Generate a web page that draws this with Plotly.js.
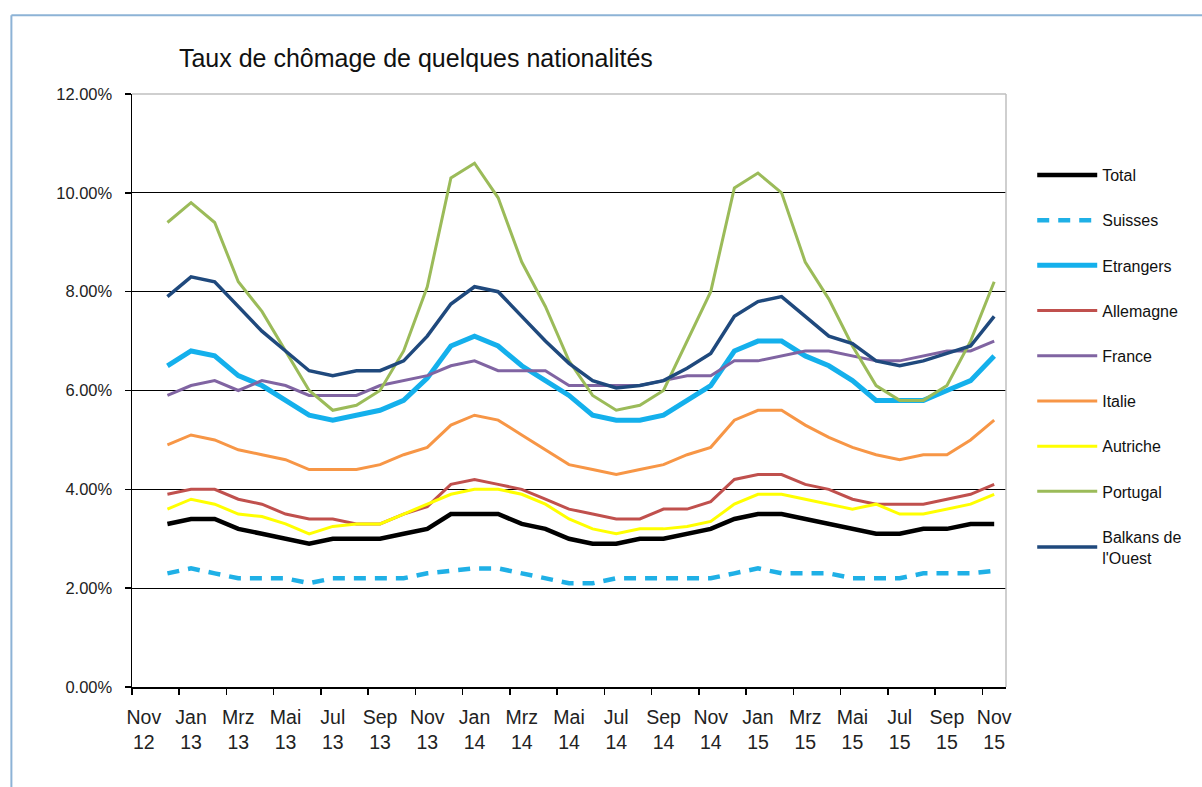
<!DOCTYPE html>
<html>
<head>
<meta charset="utf-8">
<script src="https://cdn.plot.ly/plotly-3.0.1.min.js"></script>
<style>
  html, body { margin: 0; padding: 0; background: #ffffff; }
  #chart { width: 1202px; height: 787px; }
</style>
</head>
<body>
<div id="chart"></div>
<script>
// Months Dec 2012 .. Nov 2015 (data points)
const months = ["Dez 12","Jan 13","Feb 13","Mrz 13","Apr 13","Mai 13","Jun 13","Jul 13","Aug 13","Sep 13","Okt 13","Nov 13",
                "Dez 13","Jan 14","Feb 14","Mrz 14","Apr 14","Mai 14","Jun 14","Jul 14","Aug 14","Sep 14","Okt 14","Nov 14",
                "Dez 14","Jan 15","Feb 15","Mrz 15","Apr 15","Mai 15","Jun 15","Jul 15","Aug 15","Sep 15","Okt 15","Nov 15"];
// Axis tick labels (every second month, starting Nov 12)
const tickLabels = ["Nov<br>12","Jan<br>13","Mrz<br>13","Mai<br>13","Jul<br>13","Sep<br>13","Nov<br>13",
                    "Jan<br>14","Mrz<br>14","Mai<br>14","Jul<br>14","Sep<br>14","Nov<br>14",
                    "Jan<br>15","Mrz<br>15","Mai<br>15","Jul<br>15","Sep<br>15","Nov<br>15"];

const total     = [3.3,3.4,3.4,3.2,3.1,3.0,2.9,3.0,3.0,3.0,3.1,3.2, 3.5,3.5,3.5,3.3,3.2,3.0,2.9,2.9,3.0,3.0,3.1,3.2, 3.4,3.5,3.5,3.4,3.3,3.2,3.1,3.1,3.2,3.2,3.3,3.3];
const suisses   = [2.3,2.4,2.3,2.2,2.2,2.2,2.1,2.2,2.2,2.2,2.2,2.3, 2.35,2.4,2.4,2.3,2.2,2.1,2.1,2.2,2.2,2.2,2.2,2.2, 2.3,2.4,2.3,2.3,2.3,2.2,2.2,2.2,2.3,2.3,2.3,2.35];
const etrangers = [6.5,6.8,6.7,6.3,6.1,5.8,5.5,5.4,5.5,5.6,5.8,6.25, 6.9,7.1,6.9,6.5,6.2,5.9,5.5,5.4,5.4,5.5,5.8,6.1, 6.8,7.0,7.0,6.7,6.5,6.2,5.8,5.8,5.8,6.0,6.2,6.7];
const allemagne = [3.9,4.0,4.0,3.8,3.7,3.5,3.4,3.4,3.3,3.3,3.5,3.65, 4.1,4.2,4.1,4.0,3.8,3.6,3.5,3.4,3.4,3.6,3.6,3.75, 4.2,4.3,4.3,4.1,4.0,3.8,3.7,3.7,3.7,3.8,3.9,4.1];
const france    = [5.9,6.1,6.2,6.0,6.2,6.1,5.9,5.9,5.9,6.1,6.2,6.3, 6.5,6.6,6.4,6.4,6.4,6.1,6.1,6.1,6.1,6.2,6.3,6.3, 6.6,6.6,6.7,6.8,6.8,6.7,6.6,6.6,6.7,6.8,6.8,7.0];
const italie    = [4.9,5.1,5.0,4.8,4.7,4.6,4.4,4.4,4.4,4.5,4.7,4.85, 5.3,5.5,5.4,5.1,4.8,4.5,4.4,4.3,4.4,4.5,4.7,4.85, 5.4,5.6,5.6,5.3,5.05,4.85,4.7,4.6,4.7,4.7,5.0,5.4];
const autriche  = [3.6,3.8,3.7,3.5,3.45,3.3,3.1,3.25,3.3,3.3,3.5,3.7, 3.9,4.0,4.0,3.9,3.7,3.4,3.2,3.1,3.2,3.2,3.25,3.35, 3.7,3.9,3.9,3.8,3.7,3.6,3.7,3.5,3.5,3.6,3.7,3.9];
const portugal  = [9.4,9.8,9.4,8.2,7.6,6.8,6.0,5.6,5.7,6.0,6.8,8.1, 10.3,10.6,9.9,8.6,7.7,6.6,5.9,5.6,5.7,6.0,7.0,8.0, 10.1,10.4,10.0,8.6,7.85,6.9,6.1,5.8,5.8,6.1,7.0,8.2];
const balkans   = [7.9,8.3,8.2,7.7,7.2,6.8,6.4,6.3,6.4,6.4,6.6,7.1, 7.75,8.1,8.0,7.5,7.0,6.55,6.2,6.05,6.1,6.2,6.45,6.75, 7.5,7.8,7.9,7.5,7.1,6.95,6.6,6.5,6.6,6.75,6.9,7.5];

// position index: Nov 12 = 0, Dec 12 = 1, ...
const xs = months.map((m, i) => i + 1);
const tickPos = tickLabels.map((t, i) => i * 2);
const boundaryPos = tickLabels.map((t, i) => i * 2 - 0.5);

const series = [
  {name: "Total",                y: total,     color: "#000000", width: 4.5},
  {name: "Suisses",              y: suisses,   color: "#1fb0e6", width: 4.5, dash: "12px,9px"},
  {name: "Etrangers",            y: etrangers, color: "#14b0ec", width: 5},
  {name: "Allemagne",            y: allemagne, color: "#c0504d", width: 3},
  {name: "France",               y: france,    color: "#8064a2", width: 3},
  {name: "Italie",               y: italie,    color: "#f79646", width: 3},
  {name: "Autriche",             y: autriche,  color: "#ffff00", width: 3},
  {name: "Portugal",             y: portugal,  color: "#9bbb59", width: 3},
  {name: "Balkans de<br>l'Ouest",y: balkans,   color: "#1f497d", width: 3.5}
];

const traces = series.map((s, i) => ({
  type: "scatter",
  mode: "lines",
  x: xs,
  y: s.y,
  name: s.name,
  legendgroup: "g" + i,
  line: {color: s.color, width: s.width, dash: s.dash || "solid"},
  hoverinfo: "skip"
}));

const font = "Liberation Sans, Arial, sans-serif";

const layout = {
  width: 1202,
  height: 787,
  paper_bgcolor: "#ffffff",
  plot_bgcolor: "#ffffff",
  margin: {l: 132, r: 196, t: 94, b: 100},
  font: {family: font, color: "#222222"},
  title: {
    text: "Taux de chômage de quelques nationalités",
    font: {family: font, size: 25, color: "#111111"},
    x: 0.346, xanchor: "center", xref: "container",
    y: 0.926, yanchor: "middle", yref: "container"
  },
  showlegend: true,
  legend: {
    x: 1.03, xanchor: "left",
    y: 0.892, yanchor: "top",
    font: {family: font, size: 16, color: "#111111"},
    tracegroupgap: 21.4,
    itemwidth: 60,
    bgcolor: "rgba(0,0,0,0)"
  },
  xaxis: {
    range: [-0.5, 36.5],
    tickmode: "array",
    tickvals: tickPos,
    ticktext: tickLabels,
    ticks: "",
    ticklabelstandoff: 12,
    showgrid: false,
    zeroline: false,
    showline: true,
    linecolor: "#000000",
    linewidth: 1.5,
    tickfont: {family: font, size: 19.5, color: "#222222"},
    minor: {tickmode: "array", tickvals: boundaryPos, ticks: "outside", ticklen: 6, tickwidth: 1.5, tickcolor: "#000000", showgrid: false},
    fixedrange: true
  },
  yaxis: {
    range: [0, 12],
    tickmode: "linear",
    tick0: 0,
    dtick: 2,
    tickformat: ".2f",
    ticksuffix: "%",
    ticks: "outside",
    ticklen: 6,
    tickwidth: 1.5,
    tickcolor: "#000000",
    ticklabelstandoff: 9,
    showgrid: true,
    gridcolor: "#000000",
    gridwidth: 1,
    zeroline: false,
    showline: true,
    linecolor: "#000000",
    linewidth: 1.5,
    tickfont: {family: font, size: 16.5, color: "#222222"},
    fixedrange: true
  },
  shapes: [
    // grey plot-area border, top and right
    {type: "line", xref: "paper", yref: "paper", x0: 0, x1: 1, y0: 1, y1: 1, line: {color: "#bfbfbf", width: 1.5}, layer: "above"},
    {type: "line", xref: "paper", yref: "paper", x0: 1, x1: 1, y0: 0, y1: 1, line: {color: "#bfbfbf", width: 1.5}, layer: "above"},
    // outer blue frame (top and left)
    {type: "line", xref: "paper", yref: "paper", x0: -0.138, x1: 1.3, y0: 1.133, y1: 1.133, line: {color: "#8db3d6", width: 2}},
    {type: "line", xref: "paper", yref: "paper", x0: -0.138, x1: -0.138, y0: -0.2, y1: 1.133, line: {color: "#8db3d6", width: 2}}
  ]
};

Plotly.newPlot("chart", traces, layout, {staticPlot: true, displayModeBar: false});
</script>
</body>
</html>
